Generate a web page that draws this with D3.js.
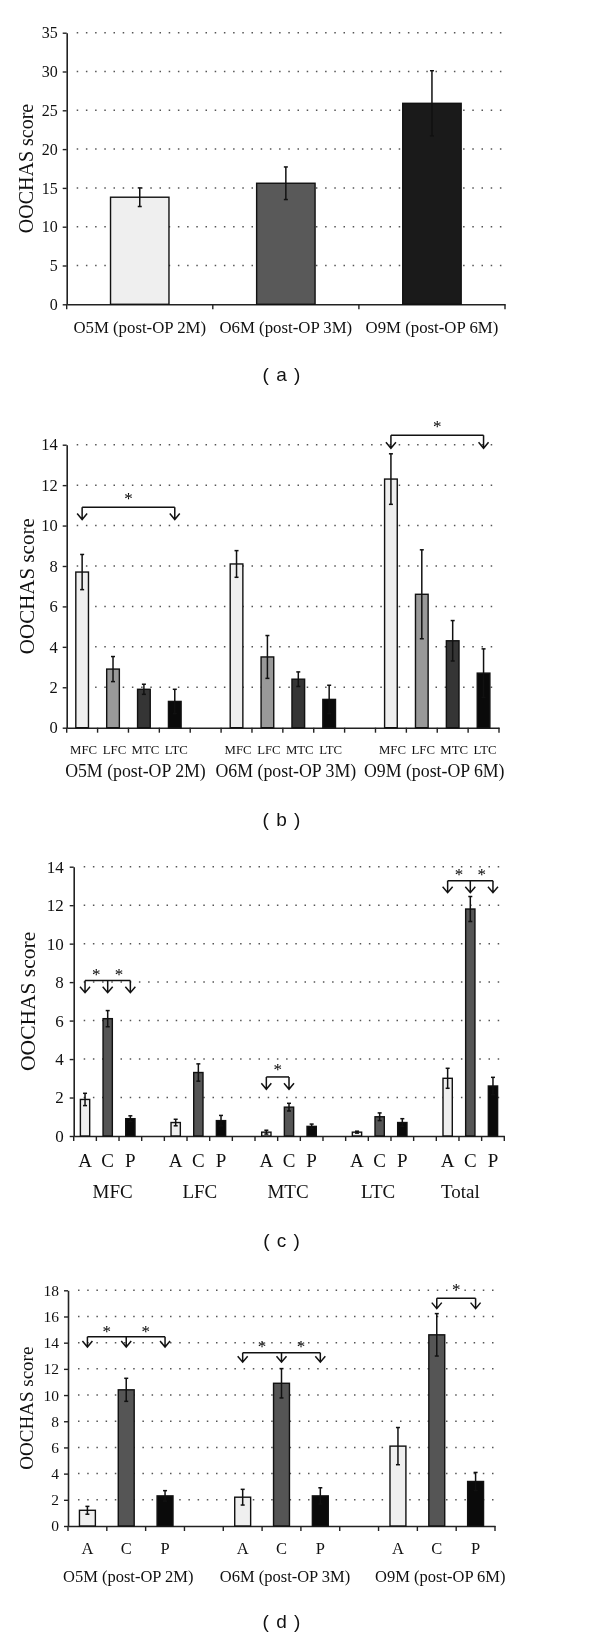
<!DOCTYPE html>
<html><head><meta charset="utf-8">
<script src="https://cdn.jsdelivr.net/npm/d3@7"></script>
<style>body{margin:0;background:#fff}svg{display:block;will-change:transform}</style>
</head><body>
<svg id="chart" width="600" height="1638"></svg>
<script>
// ================= DATA =================
const timeLabels = ["O5M (post-OP 2M)", "O6M (post-OP 3M)", "O9M (post-OP 6M)"];
const regionLabels = ["MFC", "LFC", "MTC", "LTC"];
const siteLabels = ["A", "C", "P"];
const compGroups = ["MFC", "LFC", "MTC", "LTC", "Total"];
const panelNames = ["( a )", "( b )", "( c )", "( d )"];
const yTitle = "OOCHAS score";

// (a) total score per time point
const panelA_ticks = [0, 5, 10, 15, 20, 25, 30, 35];
const panelA_means = [13.8, 15.6, 25.9];
const panelA_errors = [1.2, 2.1, 4.2];

// (b) per region per time point
const panelB_ticks = [0, 2, 4, 6, 8, 10, 12, 14];
const panelB_means = [[7.7, 2.9, 1.9, 1.3], [8.1, 3.5, 2.4, 1.4], [12.3, 6.6, 4.3, 2.7]];
const panelB_errors = [[0.87, 0.62, 0.25, 0.6], [0.66, 1.06, 0.36, 0.7], [1.25, 2.2, 1.0, 1.2]];
const panelB_brackets = [
  {group: 0, arrows: ["MFC", "LTC"], level: 10.9, tip: 10.3, star: 11.5},
  {group: 2, arrows: ["MFC", "LTC"], level: 14.47, tip: 13.82, star: 15.06}
];

// (c) per site (A, C, P) per region
const panelC_ticks = [0, 2, 4, 6, 8, 10, 12, 14];
const panelC_A = [1.9, 0.7, 0.2, 0.2, 3.0];
const panelC_C = [6.1, 3.3, 1.5, 1.0, 11.8];
const panelC_P = [0.9, 0.8, 0.5, 0.7, 2.6];
const panelC_errA = [0.32, 0.17, 0.1, 0.05, 0.52];
const panelC_errC = [0.42, 0.45, 0.2, 0.2, 0.65];
const panelC_errP = [0.15, 0.27, 0.12, 0.2, 0.45];
const panelC_brackets = [
  {group: 0, arrows: ["A", "C", "P"], level: 8.09, tip: 7.45, star: 8.54},
  {group: 2, arrows: ["A", "C"], level: 3.07, tip: 2.43, star: 3.6},
  {group: 4, arrows: ["A", "C", "P"], level: 13.27, tip: 12.65, star: 13.77}
];

// (d) per site per time point
const panelD_ticks = [0, 2, 4, 6, 8, 10, 12, 14, 16, 18];
const panelD_A = [1.2, 2.2, 6.1];
const panelD_C = [10.4, 10.9, 14.6];
const panelD_P = [2.3, 2.3, 3.4];
const panelD_errA = [0.3, 0.6, 1.42];
const panelD_errC = [0.88, 1.12, 1.62];
const panelD_errP = [0.4, 0.62, 0.69];
const panelD_brackets = [
  {group: 0, arrows: ["A", "C", "P"], level: 14.46, tip: 13.67, star: 15.1},
  {group: 1, arrows: ["A", "C", "P"], level: 13.24, tip: 12.51, star: 13.9},
  {group: 2, arrows: ["C", "P"], level: 17.39, tip: 16.6, star: 18.28}
];

// ================= STYLE / LAYOUT =================
const SERIF = "'Liberation Serif', 'Times New Roman', serif";
const SANS = "'Liberation Sans', Arial, sans-serif";
const colorsA = ["#efefef", "#595959", "#1a1a1a"];
const colorsRegion = {MFC: "#efefef", LFC: "#999999", MTC: "#353535", LTC: "#0a0a0a"};
const colorsSite = {A: "#efefef", C: "#555555", P: "#0a0a0a"};
const INK = "#111";

const svg = d3.select("#chart");

function drawPanel(cfg) {
  const g = svg.append("g");
  const y = d3.scaleLinear().domain([0, cfg.yMax]).range([cfg.y0, cfg.yTop]);
  const x = d3.scaleBand().domain(cfg.slots).range([cfg.x0, cfg.x1]).paddingInner(0).paddingOuter(0);

  // dotted gridlines
  g.selectAll("line.grid").data(cfg.ticks.filter(t => t > 0)).join("line")
    .attr("class", "grid")
    .attr("x1", cfg.x0 + 10).attr("x2", cfg.x1)
    .attr("y1", d => y(d)).attr("y2", d => y(d))
    .attr("stroke", "#555").attr("stroke-width", 1.5)
    .attr("stroke-dasharray", "1.5 7.7");

  // y axis
  const ya = g.append("g").attr("transform", `translate(${cfg.x0},0)`)
    .call(d3.axisLeft(y).tickValues(cfg.ticks).tickSize(4).tickSizeOuter(0).tickPadding(cfg.tickPad));
  ya.select(".domain").attr("stroke", "#222").attr("stroke-width", 1.6);
  ya.selectAll(".tick line").attr("stroke", "#222").attr("stroke-width", 1.4);
  ya.selectAll(".tick text").attr("font-family", SERIF).attr("font-size", cfg.tickFont).attr("fill", INK);

  // x axis (ticks at band boundaries)
  const xa = g.append("g").attr("transform", `translate(0,${cfg.y0})`)
    .call(d3.axisBottom(x).tickSize(5).tickSizeOuter(0).tickFormat(""));
  xa.select(".domain").attr("stroke", "#222").attr("stroke-width", 1.6);
  xa.selectAll(".tick line").attr("transform", `translate(${-x.bandwidth() / 2},0)`)
    .attr("stroke", "#222").attr("stroke-width", 1.4);
  xa.append("line").attr("x1", cfg.x1).attr("x2", cfg.x1).attr("y1", 0).attr("y2", 5)
    .attr("stroke", "#222").attr("stroke-width", 1.4);

  // bars
  const bw = x.bandwidth() * cfg.barFrac;
  g.selectAll("rect.bar").data(cfg.bars).join("rect")
    .attr("class", "bar")
    .attr("x", d => x(d.key) + (x.bandwidth() - bw) / 2)
    .attr("width", bw)
    .attr("y", d => y(d.mean))
    .attr("height", d => y(0) - y(d.mean))
    .attr("fill", d => d.fill)
    .attr("stroke", INK).attr("stroke-width", 1.4);

  // error bars
  const eb = g.selectAll("g.err").data(cfg.bars).join("g").attr("class", "err")
    .attr("stroke", INK).attr("stroke-width", 1.5);
  const mid = d => x(d.key) + x.bandwidth() / 2;
  eb.append("line")
    .attr("x1", mid).attr("x2", mid)
    .attr("y1", d => y(d.mean + d.err)).attr("y2", d => y(Math.max(0, d.mean - d.err)));
  eb.append("line")
    .attr("x1", d => mid(d) - 2).attr("x2", d => mid(d) + 2)
    .attr("y1", d => y(d.mean + d.err)).attr("y2", d => y(d.mean + d.err));
  eb.append("line")
    .attr("x1", d => mid(d) - 2).attr("x2", d => mid(d) + 2)
    .attr("y1", d => y(Math.max(0, d.mean - d.err))).attr("y2", d => y(Math.max(0, d.mean - d.err)));

  // y title
  g.append("text")
    .attr("transform", `translate(${cfg.titleX},${(cfg.y0 + cfg.yTop) / 2}) rotate(-90)`)
    .attr("text-anchor", "middle")
    .attr("font-family", SERIF).attr("font-size", cfg.titleFont).attr("fill", INK)
    .text(yTitle);

  // panel name
  svg.append("text").attr("x", 282).attr("y", cfg.nameY)
    .attr("text-anchor", "middle").attr("font-family", SANS).attr("font-size", 19).attr("fill", INK)
    .attr("letter-spacing", 1)
    .style("white-space", "pre")
    .text(cfg.name);

  return {g, x, y};
}

function drawBrackets(p, brackets, keyFn) {
  const cx = k => p.x(k) + p.x.bandwidth() / 2;
  brackets.forEach(b => {
    const xs = b.arrows.map(a => cx(keyFn(b.group, a)));
    const yl = p.y(b.level), yt = p.y(b.tip);
    const bg = p.g.append("g").attr("stroke", INK).attr("stroke-width", 1.5).attr("fill", "none");
    bg.append("line").attr("x1", d3.min(xs)).attr("x2", d3.max(xs)).attr("y1", yl).attr("y2", yl);
    xs.forEach(xv => {
      bg.append("path").attr("d", `M${xv},${yl}V${yt}M${xv - 5},${yt - 6}L${xv},${yt}L${xv + 5},${yt - 6}`);
    });
    for (let i = 0; i < xs.length - 1; i++) {
      p.g.append("text").attr("x", (xs[i] + xs[i + 1]) / 2).attr("y", p.y(b.star) + 8.5)
        .attr("text-anchor", "middle").attr("font-family", SERIF).attr("font-size", 17)
        .attr("fill", "#000")
        .text("*");
    }
  });
}

// ---------- Panel (a) ----------
{
  const bars = timeLabels.map((t, i) => ({key: t, mean: panelA_means[i], err: panelA_errors[i], fill: colorsA[i]}));
  const p = drawPanel({x0: 66.7, x1: 505, y0: 304.3, yTop: 32.7, yMax: 35, ticks: panelA_ticks,
    slots: timeLabels, bars, barFrac: 0.4, tickPad: 5, tickFont: 16, titleFont: 20, titleX: 33,
    name: panelNames[0], nameY: 381});
  p.g.selectAll("text.cat").data(timeLabels).join("text").attr("class", "cat")
    .attr("x", d => p.x(d) + p.x.bandwidth() / 2).attr("y", 333)
    .attr("text-anchor", "middle").attr("font-family", SERIF).attr("font-size", 16.8).attr("fill", INK)
    .text(d => d);
}

// ---------- Panel (b) ----------
{
  const slots = [];
  timeLabels.forEach((t, gi) => {
    regionLabels.forEach(r => slots.push(gi + "|" + r));
    if (gi < timeLabels.length - 1) slots.push("gap" + gi);
  });
  const bars = [];
  timeLabels.forEach((t, gi) => regionLabels.forEach((r, ri) =>
    bars.push({key: gi + "|" + r, mean: panelB_means[gi][ri], err: panelB_errors[gi][ri], fill: colorsRegion[r]})));
  const p = drawPanel({x0: 66.7, x1: 499, y0: 727.7, yTop: 444.7, yMax: 14, ticks: panelB_ticks,
    slots, bars, barFrac: 0.41, tickPad: 5, tickFont: 16.5, titleFont: 21, titleX: 33.5,
    name: panelNames[1], nameY: 826});
  const cx = k => p.x(k) + p.x.bandwidth() / 2;
  const labelShift = [7, 3, -3];
  p.g.selectAll("text.sub").data(bars).join("text").attr("class", "sub")
    .attr("x", d => cx(d.key) + 1.5).attr("y", 754)
    .attr("text-anchor", "middle").attr("font-family", SERIF).attr("font-size", 12.8).attr("fill", INK)
    .text(d => d.key.split("|")[1]);
  p.g.selectAll("text.cat").data(timeLabels).join("text").attr("class", "cat")
    .attr("x", (d, i) => (cx(i + "|MFC") + cx(i + "|LTC")) / 2 + labelShift[i]).attr("y", 776.5)
    .attr("text-anchor", "middle").attr("font-family", SERIF).attr("font-size", 17.8).attr("fill", INK)
    .text(d => d);
  drawBrackets(p, panelB_brackets, (gi, k) => gi + "|" + k);
}

// ---------- Panel (c) ----------
{
  const slots = [];
  compGroups.forEach((gname, gi) => {
    siteLabels.forEach(s => slots.push(gi + "|" + s));
    if (gi < compGroups.length - 1) slots.push("gap" + gi);
  });
  const vals = {A: panelC_A, C: panelC_C, P: panelC_P};
  const errs = {A: panelC_errA, C: panelC_errC, P: panelC_errP};
  const bars = [];
  compGroups.forEach((gname, gi) => siteLabels.forEach(s =>
    bars.push({key: gi + "|" + s, mean: vals[s][gi], err: errs[s][gi], fill: colorsSite[s]})));
  const p = drawPanel({x0: 73.7, x1: 504.3, y0: 1136, yTop: 866.7, yMax: 14, ticks: panelC_ticks,
    slots, bars, barFrac: 0.41, tickPad: 6, tickFont: 17, titleFont: 21.5, titleX: 34.5,
    name: panelNames[2], nameY: 1247});
  const cx = k => p.x(k) + p.x.bandwidth() / 2;
  const labelShift = [5, 1.5, -1, -1.5, -10];
  p.g.selectAll("text.sub").data(bars).join("text").attr("class", "sub")
    .attr("x", d => cx(d.key)).attr("y", 1166.5)
    .attr("text-anchor", "middle").attr("font-family", SERIF).attr("font-size", 19).attr("fill", INK)
    .text(d => d.key.split("|")[1]);
  p.g.selectAll("text.cat").data(compGroups).join("text").attr("class", "cat")
    .attr("x", (d, i) => cx(i + "|C") + labelShift[i]).attr("y", 1197.5)
    .attr("text-anchor", "middle").attr("font-family", SERIF).attr("font-size", 19).attr("fill", INK)
    .text(d => d);
  drawBrackets(p, panelC_brackets, (gi, k) => gi + "|" + k);
}

// ---------- Panel (d) ----------
{
  const slots = [];
  timeLabels.forEach((t, gi) => {
    siteLabels.forEach(s => slots.push(gi + "|" + s));
    if (gi < timeLabels.length - 1) slots.push("gap" + gi);
  });
  const vals = {A: panelD_A, C: panelD_C, P: panelD_P};
  const errs = {A: panelD_errA, C: panelD_errC, P: panelD_errP};
  const bars = [];
  timeLabels.forEach((t, gi) => siteLabels.forEach(s =>
    bars.push({key: gi + "|" + s, mean: vals[s][gi], err: errs[s][gi], fill: colorsSite[s]})));
  const p = drawPanel({x0: 68, x1: 495, y0: 1526, yTop: 1290.3, yMax: 18, ticks: panelD_ticks,
    slots, bars, barFrac: 0.41, tickPad: 5, tickFont: 15.5, titleFont: 19, titleX: 33,
    name: panelNames[3], nameY: 1628});
  const cx = k => p.x(k) + p.x.bandwidth() / 2;
  const labelShift = [2, 3.5, 3.5];
  p.g.selectAll("text.sub").data(bars).join("text").attr("class", "sub")
    .attr("x", d => cx(d.key)).attr("y", 1554)
    .attr("text-anchor", "middle").attr("font-family", SERIF).attr("font-size", 16.5).attr("fill", INK)
    .text(d => d.key.split("|")[1]);
  p.g.selectAll("text.cat").data(timeLabels).join("text").attr("class", "cat")
    .attr("x", (d, i) => cx(i + "|C") + labelShift[i]).attr("y", 1581.5)
    .attr("text-anchor", "middle").attr("font-family", SERIF).attr("font-size", 16.5).attr("fill", INK)
    .text(d => d);
  drawBrackets(p, panelD_brackets, (gi, k) => gi + "|" + k);
}
</script>
</body></html>
